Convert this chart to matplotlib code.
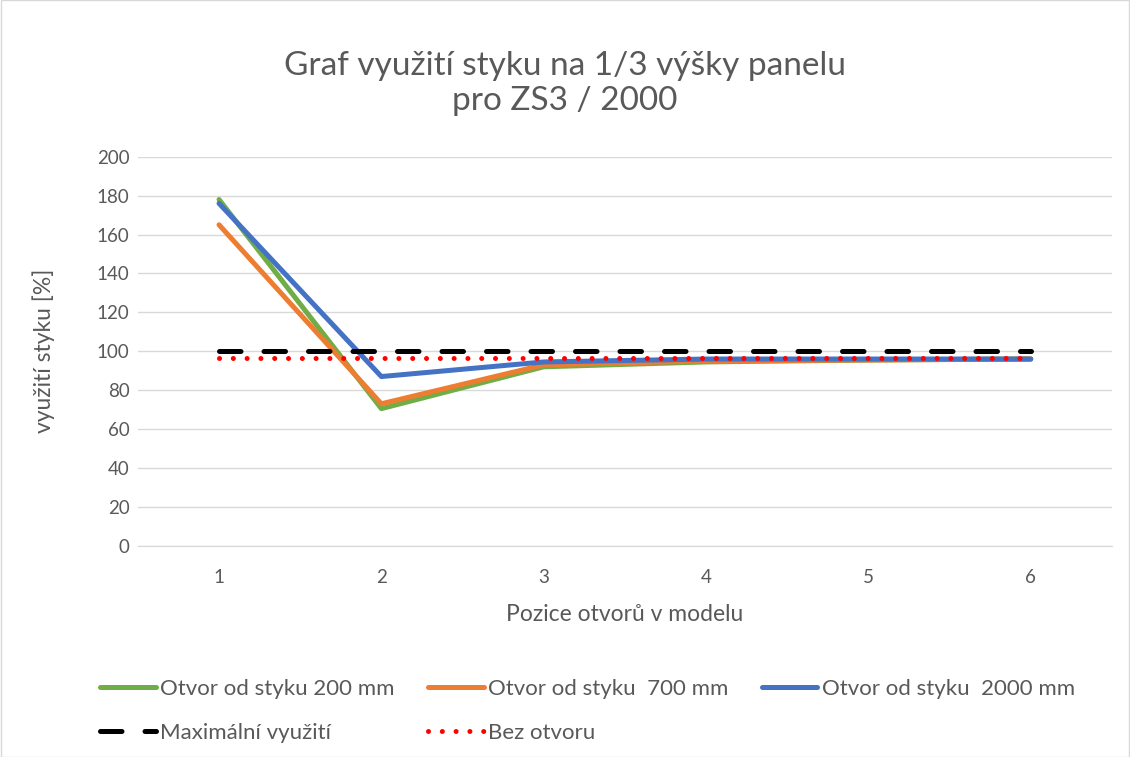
import numpy as np
import matplotlib.pyplot as plt
from matplotlib.patches import Rectangle

plt.rcParams['font.family'] = ['Lato', 'DejaVu Sans']

pozice = [1, 2, 3, 4, 5, 6]
otvor_200 = [178, 70.5, 92, 94.5, 95.5, 96]
otvor_700 = [165, 73, 93, 95, 95.5, 96]
otvor_2000 = [176, 87, 94.5, 96, 96, 96]
max_vyuziti = [100, 100, 100, 100, 100, 100]
bez_otvoru = [96.5, 96.5, 96.5, 96.5, 96.5, 96.5]

sedy = '#595959'

fig = plt.figure(figsize=(11.30, 7.57), dpi=100)
fig.patches.append(Rectangle((0.0005, 0.0005), 0.999, 0.999, transform=fig.transFigure,
                             fill=False, edgecolor='#d9d9d9', linewidth=1))
ax = fig.add_axes([0.122, 0.279, 0.862, 0.514])

lw = 3.6
ax.plot(pozice, otvor_200, color='#70ad47', lw=lw, label='Otvor od styku 200 mm', solid_capstyle='round', zorder=3)
ax.plot(pozice, otvor_700, color='#ed7d31', lw=lw, label='Otvor od styku  700 mm', solid_capstyle='round', zorder=3)
ax.plot(pozice, otvor_2000, color='#4472c4', lw=lw, label='Otvor od styku  2000 mm', solid_capstyle='round', zorder=3)
ax.plot(pozice, max_vyuziti, color='black', lw=lw, dashes=(4.3, 4.6), dash_capstyle='round',
        label='Maximální využití', zorder=4)
ax.plot(pozice, bez_otvoru, color='red', lw=lw, dashes=(0.01, 2.75), dash_capstyle='round',
        label='Bez otvoru', zorder=4)

ax.set_xlim(0.5, 6.5)
ax.set_ylim(0, 200)
ax.set_yticks(range(0, 201, 20))
ax.set_xticks(pozice)
ax.grid(axis='y', color='#d9d9d9', lw=1)
ax.set_axisbelow(True)
for s in ['top', 'right', 'left']:
    ax.spines[s].set_visible(False)
ax.spines['bottom'].set_color('#d9d9d9')
ax.tick_params(length=0, labelsize=13.5, colors=sedy)
ax.tick_params(axis='x', pad=17)
ax.tick_params(axis='y', pad=6)

ax.set_xlabel('Pozice otvorů v modelu', fontsize=16.5, color=sedy, labelpad=13)
ax.set_ylabel('využití styku [%]', fontsize=16.5, color=sedy, labelpad=30)
fig.suptitle('Graf využití styku na 1/3 výšky panelu\npro ZS3 / 2000', fontsize=24, color=sedy,
             y=0.932, linespacing=1.2)

h, l = ax.get_legend_handles_labels()
order = [0, 3, 1, 4, 2]
leg = fig.legend([h[i] for i in order], [l[i] for i in order], ncol=3, loc='lower left',
                 bbox_to_anchor=(0.071, -0.008), frameon=False, fontsize=16, handlelength=2.5,
                 handletextpad=0.2, columnspacing=1.5, labelspacing=1.1, labelcolor=sedy)

fig.savefig('out.png', dpi=100)
